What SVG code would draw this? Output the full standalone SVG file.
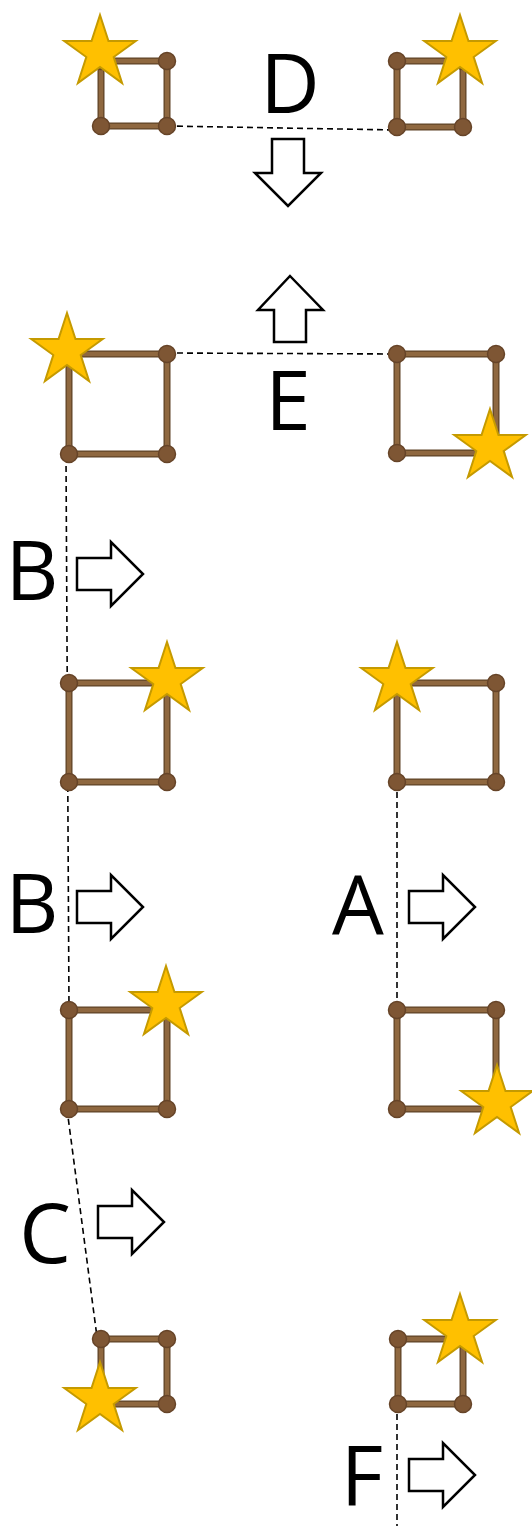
<svg xmlns="http://www.w3.org/2000/svg" xmlns:xlink="http://www.w3.org/1999/xlink" width="532" height="1526" viewBox="0 0 532 1526">
<style>
.frame-o{fill:none;stroke:#5f4326;stroke-width:7}
.frame-i{fill:none;stroke:#8f6840;stroke-width:4.5}
.joint{fill:#7e5634;stroke:#664428;stroke-width:1.5}
.star{fill:#FFC000;stroke:#C59A00;stroke-width:2;stroke-linejoin:miter}
.arrow{fill:#fff;stroke:#000;stroke-width:2.5;stroke-linejoin:miter}
.dash{fill:none;stroke:#000;stroke-width:1.6;stroke-dasharray:6 4}
.lbl{font-family:"Open Sans","Liberation Sans",sans-serif;font-size:82px;fill:#000;text-anchor:middle}
</style>
<defs>
<polygon id="star" class="star" points="0,-37.6 8.46,-11.65 35.76,-11.62 13.7,4.45 22.1,30.42 0,14.4 -22.1,30.42 -13.7,4.45 -35.76,-11.62 -8.46,-11.65"/>
<path id="rarrow" class="arrow" d="M0,-16 H34 V-32 L66,0 L34,32 V16 H0 Z"/>
</defs>
<rect width="532" height="1526" fill="#fff"/>
<g id="connectors">
<line class="dash" x1="167" y1="126" x2="397" y2="130"/>
<line class="dash" x1="167" y1="353" x2="397" y2="354"/>
<line class="dash" x1="66" y1="456" x2="69" y2="1010"/>
<line class="dash" x1="397" y1="782" x2="397" y2="1010"/>
<line class="dash" x1="67" y1="1109" x2="97" y2="1337"/>
<line class="dash" x1="397" y1="1404" x2="397" y2="1526"/>
</g>
<g id="sq1">
<rect class="frame-o" x="101" y="61" width="66" height="65"/><rect class="frame-i" x="101" y="61" width="66" height="65"/>
<circle class="joint" cx="101" cy="61" r="8.5"/><circle class="joint" cx="167" cy="61" r="8.5"/><circle class="joint" cx="101" cy="126" r="8.5"/><circle class="joint" cx="167" cy="126" r="8.5"/>
<use xlink:href="#star" x="100" y="52.6"/>
</g>
<g id="sq2">
<rect class="frame-o" x="397" y="61" width="66" height="66"/><rect class="frame-i" x="397" y="61" width="66" height="66"/>
<circle class="joint" cx="397" cy="61" r="8.5"/><circle class="joint" cx="463" cy="61" r="8.5"/><circle class="joint" cx="397" cy="127" r="8.5"/><circle class="joint" cx="463" cy="127" r="8.5"/>
<use xlink:href="#star" x="460" y="52.6"/>
</g>
<g id="labelD"><text class="lbl" x="290" y="113">D</text></g>
<g id="arrowDown"><path class="arrow" d="M272,139 H304 V173 H321 L288,206 L255,173 H272 Z"/></g>
<g id="arrowUp"><path class="arrow" d="M290,276 L323,310 H306 V342 H274 V310 H258 Z"/></g>
<g id="labelE"><text class="lbl" x="288" y="430">E</text></g>
<g id="sq3">
<rect class="frame-o" x="69" y="354" width="98" height="100"/><rect class="frame-i" x="69" y="354" width="98" height="100"/>
<circle class="joint" cx="69" cy="354" r="8.5"/><circle class="joint" cx="167" cy="354" r="8.5"/><circle class="joint" cx="69" cy="454" r="8.5"/><circle class="joint" cx="167" cy="454" r="8.5"/>
<use xlink:href="#star" x="67" y="350.6"/>
</g>
<g id="sq4">
<rect class="frame-o" x="397" y="354" width="99" height="99"/><rect class="frame-i" x="397" y="354" width="99" height="99"/>
<circle class="joint" cx="397" cy="354" r="8.5"/><circle class="joint" cx="496" cy="354" r="8.5"/><circle class="joint" cx="397" cy="453" r="8.5"/><circle class="joint" cx="496" cy="453" r="8.5"/>
<use xlink:href="#star" x="490" y="446.6"/>
</g>
<g id="labelB1"><text class="lbl" x="32" y="600">B</text><use xlink:href="#rarrow" x="77" y="574"/></g>
<g id="sq5">
<rect class="frame-o" x="69" y="683" width="98" height="99"/><rect class="frame-i" x="69" y="683" width="98" height="99"/>
<circle class="joint" cx="69" cy="683" r="8.5"/><circle class="joint" cx="167" cy="683" r="8.5"/><circle class="joint" cx="69" cy="782" r="8.5"/><circle class="joint" cx="167" cy="782" r="8.5"/>
<use xlink:href="#star" x="167" y="679.6"/>
</g>
<g id="sq6">
<rect class="frame-o" x="397" y="683" width="99" height="99"/><rect class="frame-i" x="397" y="683" width="99" height="99"/>
<circle class="joint" cx="397" cy="683" r="8.5"/><circle class="joint" cx="496" cy="683" r="8.5"/><circle class="joint" cx="397" cy="782" r="8.5"/><circle class="joint" cx="496" cy="782" r="8.5"/>
<use xlink:href="#star" x="397" y="679.6"/>
</g>
<g id="labelB2"><text class="lbl" x="32" y="933">B</text><use xlink:href="#rarrow" x="77" y="907"/></g>
<g id="labelA"><text class="lbl" x="358" y="935">A</text><use xlink:href="#rarrow" x="409" y="907"/></g>
<g id="sq7">
<rect class="frame-o" x="69" y="1010" width="98" height="99"/><rect class="frame-i" x="69" y="1010" width="98" height="99"/>
<circle class="joint" cx="69" cy="1010" r="8.5"/><circle class="joint" cx="167" cy="1010" r="8.5"/><circle class="joint" cx="69" cy="1109" r="8.5"/><circle class="joint" cx="167" cy="1109" r="8.5"/>
<use xlink:href="#star" x="166" y="1003.6"/>
</g>
<g id="sq8">
<rect class="frame-o" x="397" y="1010" width="99" height="99"/><rect class="frame-i" x="397" y="1010" width="99" height="99"/>
<circle class="joint" cx="397" cy="1010" r="8.5"/><circle class="joint" cx="496" cy="1010" r="8.5"/><circle class="joint" cx="397" cy="1109" r="8.5"/><circle class="joint" cx="496" cy="1109" r="8.5"/>
<use xlink:href="#star" x="497" y="1102.6"/>
</g>
<g id="labelC"><text class="lbl" x="45" y="1263">C</text><use xlink:href="#rarrow" x="98" y="1222"/></g>
<g id="sq9">
<rect class="frame-o" x="101" y="1339" width="66" height="65"/><rect class="frame-i" x="101" y="1339" width="66" height="65"/>
<circle class="joint" cx="101" cy="1339" r="8.5"/><circle class="joint" cx="167" cy="1339" r="8.5"/><circle class="joint" cx="101" cy="1404" r="8.5"/><circle class="joint" cx="167" cy="1404" r="8.5"/>
<use xlink:href="#star" x="100" y="1399.6"/>
</g>
<g id="sq10">
<rect class="frame-o" x="398" y="1339" width="65" height="65"/><rect class="frame-i" x="398" y="1339" width="65" height="65"/>
<circle class="joint" cx="398" cy="1339" r="8.5"/><circle class="joint" cx="463" cy="1339" r="8.5"/><circle class="joint" cx="398" cy="1404" r="8.5"/><circle class="joint" cx="463" cy="1404" r="8.5"/>
<use xlink:href="#star" x="460" y="1331.6"/>
</g>
<g id="labelF"><text class="lbl" x="362" y="1505">F</text><use xlink:href="#rarrow" x="409" y="1475"/></g>
</svg>
